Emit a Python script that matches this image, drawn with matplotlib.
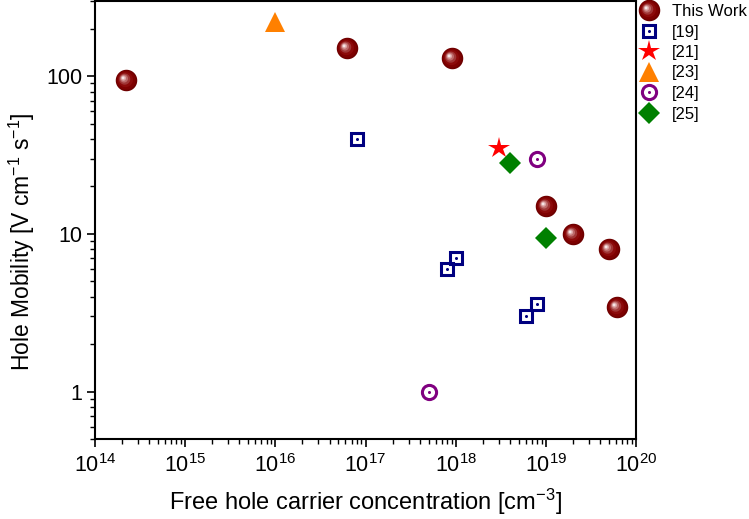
import matplotlib
matplotlib.use("Agg")
import matplotlib.pyplot as plt
import numpy as np
from matplotlib.path import Path
from matplotlib.legend_handler import HandlerTuple
from matplotlib.ticker import FuncFormatter, LogLocator, NullFormatter

plt.rcParams['font.family'] = ['Liberation Sans', 'DejaVu Sans']
plt.rcParams['mathtext.fontset'] = 'custom'
plt.rcParams['mathtext.rm'] = 'Liberation Sans'
plt.rcParams['mathtext.it'] = 'Liberation Sans:italic'
plt.rcParams['mathtext.bf'] = 'Liberation Sans:bold'

# data: carrier concentration [cm^-3], mobility
this_work_p = [2.2e14, 6.2e16, 9.2e17, 1.0e19, 2.0e19, 5.0e19, 6.1e19]
this_work_mu = [94, 150, 131, 15, 10, 8.0, 3.45]

ref19_p = [8.0e16, 8.0e17, 1.0e18, 6.0e18, 7.9e18]
ref19_mu = [40, 6.0, 7.0, 3.0, 3.6]

ref21_p = [3.0e18]
ref21_mu = [35]

ref23_p = [1.0e16]
ref23_mu = [220]

ref24_p = [5.0e17, 7.9e18]
ref24_mu = [1.0, 30]

ref25_p = [4.0e18, 1.0e19]
ref25_mu = [28, 9.4]

labels = ['This Work', '[19]', '[21]', '[23]', '[24]', '[25]']


def sphere_marker(cx, cy, r):
    """circle of radius r at (cx, cy) inside a unit box, so markers keep their offset"""
    t = np.linspace(0, 2 * np.pi, 48)
    verts = [(-1, -1), (1, 1)] + [(cx + r * np.cos(a), cy + r * np.sin(a)) for a in t]
    codes = [Path.MOVETO, Path.MOVETO, Path.MOVETO] + [Path.LINETO] * (len(t) - 2) + [Path.CLOSEPOLY]
    return Path(verts, codes)


# shading layers for the glossy spheres
sphere_layers = [
    (0.00, 0.00, 1.00, '#6e0000'),
    (-0.04, 0.03, 0.88, '#7e0000'),
    (-0.10, 0.08, 0.70, '#8c0a0a'),
    (-0.17, 0.13, 0.52, '#a03636'),
    (-0.23, 0.18, 0.37, '#bd6b6b'),
    (-0.28, 0.22, 0.24, '#dca6a6'),
    (-0.31, 0.24, 0.13, '#f6e6e6'),
]

fig = plt.figure(figsize=(7.49, 5.19), dpi=100)
ax = fig.add_axes([95 / 749, 80 / 519, 541 / 749, 438 / 519])

handles = []

sphere = []
for cx, cy, r, col in sphere_layers:
    h, = ax.plot(this_work_p, this_work_mu, ls='none', marker=sphere_marker(cx, cy, r),
                 ms=15.5, color=col, mew=0, zorder=5)
    sphere.append(h)
handles.append(tuple(sphere))

sq, = ax.plot(ref19_p, ref19_mu, ls='none', marker='s', ms=8.8, mfc='none',
              mec='#000080', mew=2.2, zorder=4)
sq_dot, = ax.plot(ref19_p, ref19_mu, ls='none', marker='o', ms=2.2, color='#000080',
                  mew=0, zorder=4)
handles.append((sq, sq_dot))

star, = ax.plot(ref21_p, ref21_mu, ls='none', marker='*', ms=16, color='#ff0000',
                mew=0, zorder=4)
handles.append(star)

tri, = ax.plot(ref23_p, ref23_mu, ls='none', marker='^', ms=14.5, color='#ff8000',
               mew=0, zorder=4)
handles.append(tri)

circ, = ax.plot(ref24_p, ref24_mu, ls='none', marker='o', ms=10.2, mfc='none',
                mec='#800080', mew=2.2, zorder=4)
circ_dot, = ax.plot(ref24_p, ref24_mu, ls='none', marker='o', ms=2.2, color='#800080',
                    mew=0, zorder=4)
handles.append((circ, circ_dot))

dia, = ax.plot(ref25_p, ref25_mu, ls='none', marker='D', ms=11, color='#008000',
               mew=0, zorder=4)
handles.append(dia)

ax.set_xscale('log')
ax.set_yscale('log')
ax.set_xlim(1e14, 1e20)
ax.set_ylim(0.5, 300)

ax.xaxis.set_major_locator(LogLocator(base=10, numticks=10))
ax.xaxis.set_minor_locator(LogLocator(base=10, subs=np.arange(2, 10), numticks=20))
ax.xaxis.set_minor_formatter(NullFormatter())
ax.yaxis.set_major_formatter(FuncFormatter(lambda v, p: f'{v:g}'))
ax.yaxis.set_minor_formatter(NullFormatter())

for side in ['left', 'bottom', 'top', 'right']:
    ax.spines[side].set_linewidth(1.5)
ax.tick_params(which='major', direction='out', length=6, width=1.2, labelsize=15.5)
ax.tick_params(axis='x', which='major', pad=5)
ax.tick_params(axis='y', which='major', pad=3)
ax.tick_params(which='minor', direction='out', length=3.5, width=1.0)
ax.tick_params(top=False, right=False, which='both')

ax.set_xlabel('Free hole carrier concentration [cm$^{-3}$]', fontsize=17, labelpad=7)
ax.set_ylabel('Hole Mobility [V cm$^{-1}$ s$^{-1}$]', fontsize=16.5)
ax.yaxis.set_label_coords(-0.108, 0.45)

ax.legend(handles, labels, handler_map={tuple: HandlerTuple(ndivide=1, pad=0)},
          loc='upper left', bbox_to_anchor=(639 / 749, 1 - 4 / 519),
          bbox_transform=fig.transFigure, frameon=False, fontsize=12,
          borderpad=0, borderaxespad=0, handlelength=1.2, handletextpad=0.8,
          labelspacing=0.33)

fig.savefig('out.png', dpi=100)
